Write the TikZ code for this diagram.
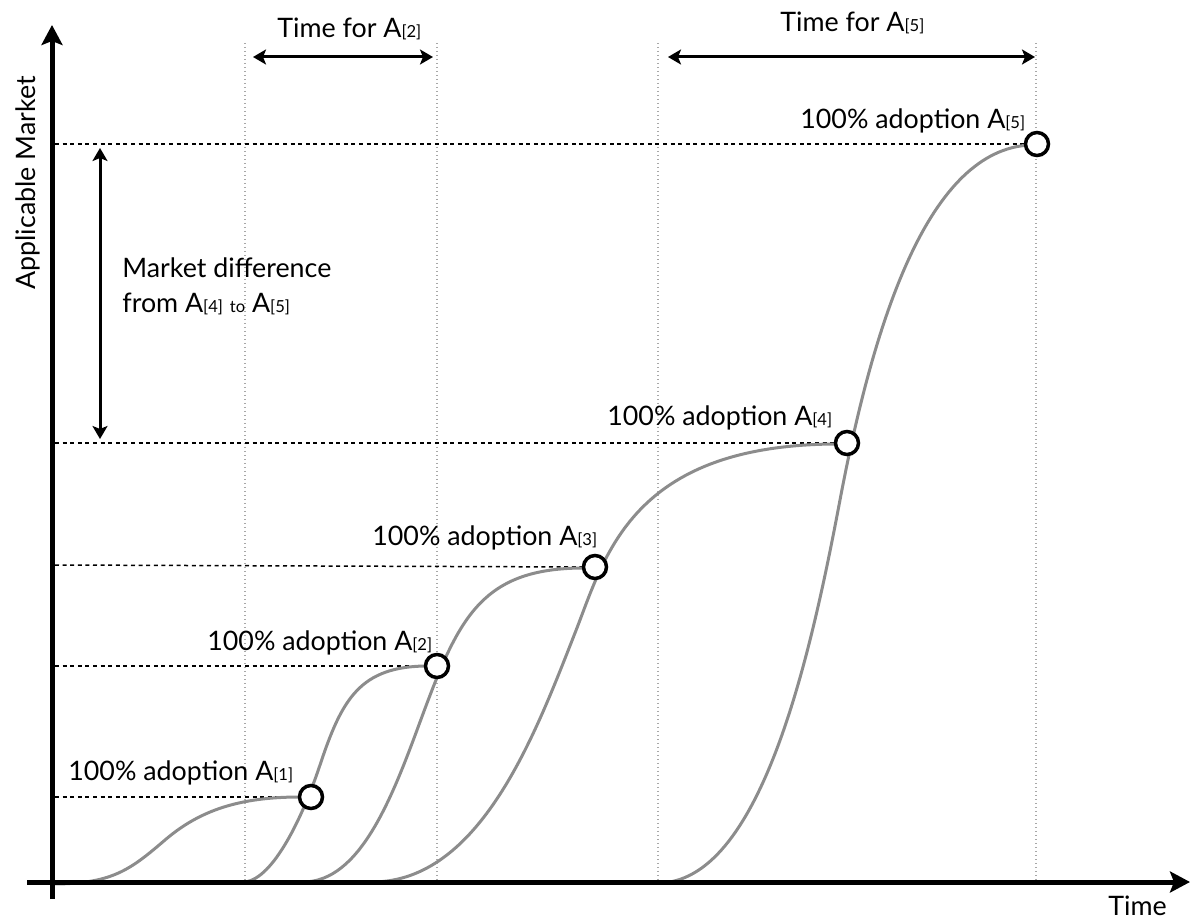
\documentclass[tikz,border=0pt]{standalone}
\usepackage{fontspec}
\setmainfont{Lato}
\usetikzlibrary{arrows.meta}
\definecolor{curvegray}{HTML}{8C8C8C}
\definecolor{guidegray}{HTML}{A8A8A8}
\newcommand{\subidx}[1]{{\fontsize{8.3}{10}\selectfont[#1]}}
\newcommand{\smallto}{{\fontsize{8.3}{10}\selectfont to}}
\begin{document}
\begin{tikzpicture}[x=0.5pt,y=-0.5pt,
  curve/.style={draw=curvegray, line width=1.5pt, line join=round, line cap=round},
  guide/.style={draw=black, line width=0.75pt, dash pattern=on 2pt off 1.8pt},
  vguide/.style={draw=guidegray, line width=0.6pt, dash pattern=on 0.6pt off 1.4pt},
  axisarrow/.style={line width=2.5pt, -{Stealth[length=10pt,width=10.5pt,inset=2pt]}},
  spanarrow/.style={line width=1.5pt, {Stealth[length=6.5pt,width=7.5pt,inset=1.5pt]}-{Stealth[length=6.5pt,width=7.5pt,inset=1.5pt]}},
  dot/.style={circle, draw=black, fill=white, line width=1.75pt, minimum size=11.5pt, inner sep=0pt},
  lbl/.style={anchor=base west, inner sep=0pt, font=\fontsize{13.4}{16}\selectfont},
]
\useasboundingbox (0,0) rectangle (1190,920);

% vertical guides
\coordinate (v1t) at (245,43);  \coordinate (v1b) at (245,880);
\coordinate (v2t) at (437,43);  \coordinate (v2b) at (437,880);
\coordinate (v3t) at (658,43);  \coordinate (v3b) at (658,880);
\coordinate (v4t) at (1036,43); \coordinate (v4b) at (1036,880);
\draw[vguide] (v1t) -- (v1b);
\draw[vguide] (v2t) -- (v2b);
\draw[vguide] (v3t) -- (v3b);
\draw[vguide] (v4t) -- (v4b);

% adoption points (positions)
\coordinate (p1) at (311,797);
\coordinate (p2) at (437,666);
\coordinate (p3) at (595,567);
\coordinate (p4) at (847,443);
\coordinate (p5) at (1037,144);

% horizontal guides
\coordinate (h1) at (55,797);
\coordinate (h2) at (55,666);
\coordinate (h3) at (55,565);
\coordinate (h4) at (55,443);
\coordinate (h5) at (55,144);
\draw[guide] (h1) -- ([xshift=-5.75pt]p1);
\draw[guide] (h2) -- ([xshift=-5.75pt]p2);
\draw[guide] (h3) -- ([xshift=-5.75pt]p3);
\draw[guide] (h4) -- ([xshift=-5.75pt]p4);
\draw[guide] (h5) -- ([xshift=-5.75pt]p5);

% adoption curves
\draw[curve] (52,884) .. controls (112,884) and (130,870) .. (165,840)
             .. controls (200,810) and (240,797) .. (300,797);
\draw[curve] (243,882) .. controls (270,882) and (300,825) .. (320,765)
             .. controls (342,699) and (360,666) .. (428,666);
\draw[curve] (303,882) .. controls (360,882) and (392,798) .. (420,722)
             .. controls (458,619) and (480,568) .. (584,568);
\draw[curve] (372,882) .. controls (480,882) and (535,735) .. (575,633)
             .. controls (605,557) and (630,445) .. (836,444);
\draw[curve] (658,883) .. controls (760,883) and (810,659) .. (840,500)
             .. controls (875,315) and (930,150) .. (1030,145);

% circles
\node[dot] (c1) at (p1) {};
\node[dot] (c2) at (p2) {};
\node[dot] (c3) at (p3) {};
\node[dot] (c4) at (p4) {};
\node[dot] (c5) at (p5) {};

% axes
\coordinate (ox) at (27,882);
\coordinate (xend) at (1190,882);
\coordinate (oy) at (52,899);
\coordinate (yend) at (52,25);
\draw[axisarrow] (ox) -- (xend);
\draw[axisarrow] (oy) -- (yend);

% span arrows
\coordinate (t2a) at (253,57); \coordinate (t2b) at (433,57);
\coordinate (t5a) at (668,57); \coordinate (t5b) at (1035,57);
\coordinate (mda) at (100,148); \coordinate (mdb) at (100,439);
\draw[spanarrow] (t2a) -- (t2b);
\draw[spanarrow] (t5a) -- (t5b);
\draw[spanarrow] (mda) -- (mdb);

% labels
\node[lbl] (lt2) at (277,38) {Time for A\subidx{2}};
\node[lbl] (lt5) at (780,32) {Time for A\subidx{5}};
\node[lbl] (l5) at (800,129) {100\% adoption A\subidx{5}};
\node[lbl] (l4) at (607,425) {100\% adoption A\subidx{4}};
\node[lbl] (l3) at (372,545) {100\% adoption A\subidx{3}};
\node[lbl] (l2) at (207,650) {100\% adoption A\subidx{2}};
\node[lbl] (l1) at (68,780) {100\% adoption A\subidx{1}};
\node[lbl] (md1) at (122,278) {Market difference};
\node[lbl] (md2) at (122,312) {from A\subidx{4} \smallto{} A\subidx{5}};
\node[lbl] (ltime) at (1108,915) {Time};
\node[lbl, rotate=90] (lam) at (35,290) {Applicable Market};
\end{tikzpicture}
\end{document}
